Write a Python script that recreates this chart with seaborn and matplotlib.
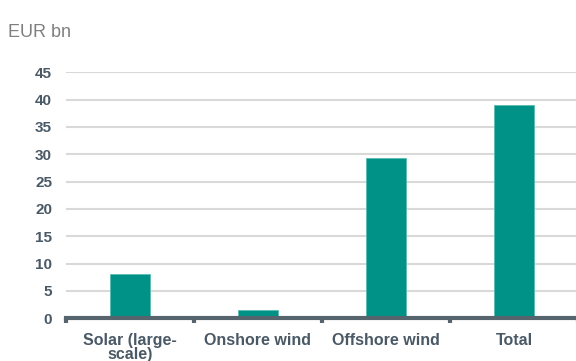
import matplotlib
matplotlib.use("Agg")
import matplotlib.pyplot as plt
import seaborn as sns
import pandas as pd

categories = ["Solar (large-\nscale)", "Onshore wind", "Offshore wind", "Total"]
values = [8.1, 1.5, 29.3, 39.0]
yticks = [0, 5, 10, 15, 20, 25, 30, 35, 40, 45]

sns.set_theme(style="white")
plt.rcParams["font.family"] = ["Liberation Sans", "DejaVu Sans"]

df = pd.DataFrame({"cat": categories, "val": values})

fig = plt.figure(figsize=(5.76, 3.61), dpi=100)
ax = fig.add_axes([66/576, 1 - 318.3/361, 512/576, (318.3 - 72.3)/361])

sns.barplot(data=df, x="cat", y="val", ax=ax, color="#009286", width=0.315,
            edgecolor="#5bbcb2", linewidth=0.6, saturation=1, zorder=3)

ax.set_ylim(0, 45)
ax.set_xlim(-0.5, 3.5)
ax.set_yticks(yticks)
ax.set_yticklabels([str(t) for t in yticks])
ax.yaxis.grid(True, color="#d9d9d9", linewidth=1.5, zorder=0)
ax.set_axisbelow(True)
ax.set_xlabel("")
ax.set_ylabel("")

for s in ["top", "right", "left"]:
    ax.spines[s].set_visible(False)
ax.spines["bottom"].set_color("#56646e")
ax.spines["bottom"].set_linewidth(3)
ax.spines["bottom"].set_zorder(4)

ax.set_xticks([-0.5, 0.5, 1.5, 2.5, 3.5], minor=True)
ax.tick_params(axis="x", which="minor", direction="out", length=3.5, width=3,
               color="#56646e", bottom=True)
ax.tick_params(axis="x", which="major", length=0, pad=10.5, labelsize=11.5,
               labelcolor="#4a5966")
ax.tick_params(axis="y", length=0, pad=10, labelsize=11, labelcolor="#4a5966")
for lbl in ax.get_xticklabels() + ax.get_yticklabels():
    lbl.set_fontweight("bold")
for lbl in ax.get_xticklabels():
    lbl.set_linespacing(0.92)

fig.text(8/576, 1 - 37/361, "EUR bn", fontsize=13, color="#7f7f7f",
         ha="left", va="baseline")

fig.savefig("out.png", dpi=100)
